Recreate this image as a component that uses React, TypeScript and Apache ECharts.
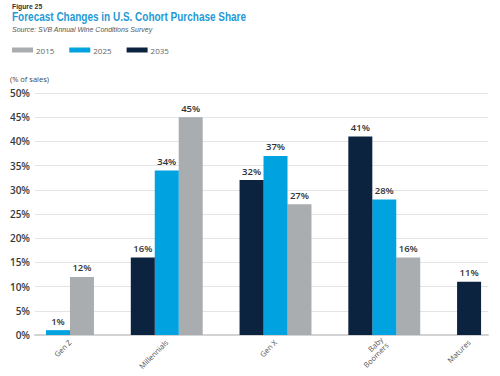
import React, { useEffect, useRef } from "react";
import * as echarts from "echarts";

const cohorts = ["Gen Z", "Millennials", "Gen X", "Baby\nBoomers", "Matures"];
const years = ["2015", "2025", "2035"];
const share2015 = [12, 45, 27, 16, null];
const share2025 = [1, 34, 37, 28, null];
const share2035 = [null, 16, 32, 41, 11];
const yTicks = [0, 5, 10, 15, 20, 25, 30, 35, 40, 45, 50];

const colors: Record<string, string> = {
  "2015": "#a9adb0",
  "2025": "#00a3e0",
  "2035": "#0c2340",
};

const FONT = "'Open Sans', 'Liberation Sans', sans-serif";
const SANS = "'Liberation Sans', Arial, sans-serif";

export default function App() {
  const ref = useRef<HTMLDivElement>(null);
  useEffect(() => {
    if (!ref.current) return;
    const chart = echarts.init(ref.current, null, { renderer: "svg" });

    // layout in bar-width units: bars adjacent inside group, missing bars dropped
    const leftPad = 0.46;
    const groupGap = 1.54;
    const rightPad = 0.29;
    const byYear: Record<string, (number | null)[]> = {
      "2015": share2015,
      "2025": share2025,
      "2035": share2035,
    };
    const barOrder = ["2035", "2025", "2015"];
    const seriesData: Record<string, [number, number][]> = { "2015": [], "2025": [], "2035": [] };
    const centers: number[] = [];
    let cursor = leftPad;
    cohorts.forEach((c, i) => {
      const present = barOrder.filter((y) => byYear[y][i] !== null);
      const start = cursor;
      present.forEach((y) => {
        seriesData[y].push([cursor + 0.5, byYear[y][i] as number]);
        cursor += 1;
      });
      centers.push((start + cursor) / 2);
      if (i < cohorts.length - 1) cursor += groupGap;
    });
    const xMax = cursor + rightPad;

    const nameFor = (v: number) => {
      let best = 0;
      centers.forEach((c, i) => {
        if (Math.abs(c - v) < Math.abs(centers[best] - v)) best = i;
      });
      return cohorts[best];
    };

    chart.setOption({
      animation: false,
      backgroundColor: "#ffffff",
      title: [
        {
          text: "Source: SVB Annual Wine Conditions Survey",
          left: 12,
          top: 26,
          padding: 0,
          textStyle: { fontFamily: SANS, fontSize: 7, fontStyle: "italic", color: "#555555", fontWeight: "normal" },
        },
        {
          text: "(% of sales)",
          left: 10,
          top: 75,
          padding: 0,
          textStyle: { fontFamily: FONT, fontSize: 7.5, color: "#444444", fontWeight: "normal" },
        },
      ],
      graphic: [
        {
          type: "text",
          left: 12,
          top: 2,
          scaleX: 0.85,
          style: { text: "Figure 25", font: `bold 8px ${SANS}`, fill: "#333333" },
        },
        {
          type: "text",
          x: 12,
          y: 10,
          scaleX: 0.8,
          style: {
            text: "Forecast Changes in U.S. Cohort Purchase Share",
            font: `bold 12.5px ${SANS}`,
            fill: "#1f9ad6",
          },
        },
      ],
      legend: {
        data: years,
        left: 12,
        top: 46,
        padding: 0,
        icon: "rect",
        itemWidth: 21,
        itemHeight: 5,
        itemGap: 15,
        textStyle: { fontFamily: FONT, fontSize: 8, color: "#666666", padding: [0, 0, 0, -2] },
      },
      grid: { left: 35, right: 12, top: 93, bottom: 41, containLabel: false },
      xAxis: {
        type: "value",
        min: 0,
        max: xMax,
        splitLine: { show: false },
        axisTick: { show: false },
        axisLine: { show: true, lineStyle: { color: "#d3d3d3", width: 2 } },
        axisLabel: {
          customValues: centers,
          formatter: (v: number) => nameFor(v),
          rotate: 45,
          margin: 6,
          fontFamily: FONT,
          fontSize: 7.5,
          lineHeight: 8,
          color: "#555555",
        },
      },
      yAxis: {
        type: "value",
        min: yTicks[0],
        max: yTicks[yTicks.length - 1],
        interval: 5,
        axisLine: { show: false },
        axisTick: { show: false },
        splitLine: { lineStyle: { color: "#e4e4e4", width: 1 } },
        axisLabel: {
          formatter: "{value}%",
          margin: 5,
          fontFamily: FONT,
          fontSize: 10,
          fontWeight: 600,
          color: "#3a3a3a",
        },
      },
      series: years.map((y) => ({
        name: y,
        type: "bar",
        data: seriesData[y],
        barWidth: 24,
        barGap: "-100%",
        itemStyle: { color: colors[y] },
        label: {
          show: true,
          position: "top",
          distance: 4,
          formatter: (p: any) => `${p.value[1]}%`,
          fontFamily: FONT,
          fontSize: 9.5,
          fontWeight: 600,
          color: "#333333",
        },
      })),
    });
    return () => chart.dispose();
  }, []);
  return (
    <div
      ref={ref}
      style={{ position: "absolute", left: 0, top: 0, width: 500, height: 376 }}
    />
  );
}
